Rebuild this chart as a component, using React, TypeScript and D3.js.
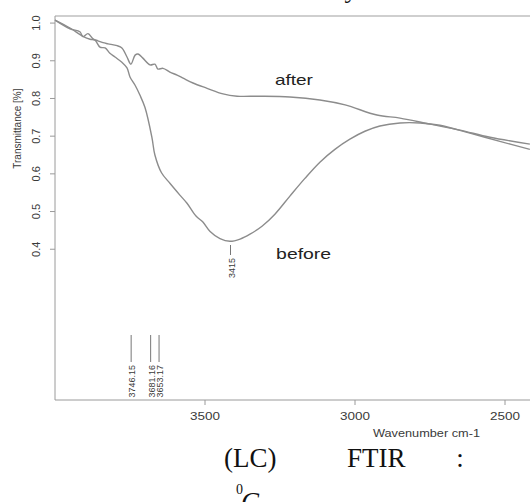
import React from "react";
import * as d3 from "d3";

// wavenumber (cm-1) / transmittance pairs
const afterWave = [4000, 3950, 3917, 3907, 3890, 3873, 3857, 3840, 3823, 3793, 3777, 3760, 3747, 3733, 3723, 3707, 3683, 3667, 3657, 3640, 3617, 3593, 3573, 3540, 3493, 3440, 3393, 3317, 3217, 3117, 3033, 2927, 2850, 2750, 2650, 2550, 2417];
const afterT = [1.008, 0.985, 0.977, 0.964, 0.972, 0.958, 0.953, 0.948, 0.945, 0.94, 0.934, 0.91, 0.891, 0.915, 0.918, 0.907, 0.889, 0.891, 0.878, 0.88, 0.87, 0.862, 0.854, 0.841, 0.827, 0.812, 0.806, 0.806, 0.804, 0.796, 0.783, 0.756, 0.748, 0.732, 0.716, 0.697, 0.679];

const beforeWave = [4000, 3950, 3907, 3883, 3867, 3850, 3833, 3817, 3800, 3777, 3760, 3750, 3733, 3717, 3700, 3677, 3667, 3645, 3617, 3583, 3560, 3530, 3507, 3483, 3450, 3417, 3383, 3350, 3310, 3267, 3217, 3167, 3117, 3067, 3017, 2967, 2917, 2850, 2783, 2717, 2617, 2517, 2417];
const beforeT = [1.008, 0.987, 0.965, 0.957, 0.955, 0.936, 0.934, 0.92, 0.91, 0.896, 0.881, 0.857, 0.835, 0.809, 0.776, 0.697, 0.65, 0.603, 0.575, 0.543, 0.522, 0.488, 0.472, 0.447, 0.428, 0.421, 0.427, 0.44, 0.461, 0.493, 0.541, 0.588, 0.631, 0.665, 0.692, 0.713, 0.727, 0.735, 0.735, 0.729, 0.708, 0.686, 0.665];

const xTicks = [3500, 3000, 2500];
const yTicks = [0.4, 0.5, 0.6, 0.7, 0.8, 0.9, 1.0];

const peakWave = [3746.15, 3681.16, 3653.17];
const peakLabels = ["3746.15", "3681.16", "3653.17"];
const minWave = 3415;
const minLabel = "3415";

const W = 530;
const H = 502;

export default function App() {
  const x = d3.scaleLinear().domain([4000, 2500]).range([55, 505]);
  const y = d3.scaleLinear().domain([0, 1.0188]).range([400, 16]);

  const line = d3
    .line<[number, number]>()
    .x((d) => x(d[0]))
    .y((d) => y(d[1]))
    .curve(d3.curveCatmullRom.alpha(0.5));

  const afterPts = afterWave.map((w, i) => [w, afterT[i]] as [number, number]);
  const beforePts = beforeWave.map((w, i) => [w, beforeT[i]] as [number, number]);

  const sans = "'Liberation Sans', Arial, sans-serif";
  const serif = "'Liberation Serif', 'Times New Roman', serif";
  const axisCol = "#9a9a9a";
  const textCol = "#3a3a3a";

  return (
    <div style={{ position: "absolute", left: 0, top: 0 }}>
      <svg width={W} height={H} style={{ display: "block", background: "#fff" }}>
        {/* cropped text glyph above */}
        <text x={351} y={-2} fontFamily={serif} fontSize={26} fill="#111" textAnchor="middle">
          y
        </text>

        {/* frame */}
        <line x1={55} x2={W} y1={16} y2={16} stroke="#cfcfcf" strokeWidth={2} />
        <line x1={55} x2={55} y1={16} y2={400} stroke={axisCol} strokeWidth={1} />
        <line x1={55} x2={W} y1={400} y2={400} stroke={axisCol} strokeWidth={1} />

        {/* y axis */}
        {yTicks.map((t) => (
          <g key={t}>
            <line x1={50} x2={55} y1={y(t)} y2={y(t)} stroke={axisCol} />
            <text
              transform={`translate(40,${y(t)}) rotate(-90)`}
              textAnchor="middle"
              fontFamily={sans}
              fontSize={11}
              fill={textCol}
            >
              {t.toFixed(1)}
            </text>
          </g>
        ))}
        <text
          transform={`translate(21,${y(0.72)}) rotate(-90)`}
          textAnchor="middle"
          fontFamily={sans}
          fontSize={10}
          fill={textCol}
        >
          Transmittance [%]
        </text>

        {/* x axis */}
        {xTicks.map((t) => (
          <g key={t}>
            <line x1={x(t)} x2={x(t)} y1={400} y2={405} stroke={axisCol} />
            <text
              x={x(t)}
              y={420}
              textAnchor="middle"
              fontFamily={sans}
              fontSize={11}
              fill={textCol}
              textLength={30}
              lengthAdjust="spacingAndGlyphs"
            >
              {t}
            </text>
          </g>
        ))}
        <text
          x={373}
          y={437}
          fontFamily={sans}
          fontSize={11}
          fill={textCol}
          textLength={107}
          lengthAdjust="spacingAndGlyphs"
        >
          Wavenumber cm-1
        </text>

        {/* spectra */}
        <path d={line(beforePts) || ""} fill="none" stroke="#8c8c8c" strokeWidth={1.4} />
        <path d={line(afterPts) || ""} fill="none" stroke="#8c8c8c" strokeWidth={1.4} />

        <text
          x={x(3267)}
          y={y(0.836)}
          fontFamily={sans}
          fontSize={15}
          fill="#222"
          textLength={38}
          lengthAdjust="spacingAndGlyphs"
        >
          after
        </text>
        <text
          x={x(3263)}
          y={y(0.374)}
          fontFamily={sans}
          fontSize={15}
          fill="#222"
          textLength={55}
          lengthAdjust="spacingAndGlyphs"
        >
          before
        </text>

        {/* peak annotations */}
        {peakWave.map((p, i) => (
          <g key={p}>
            <line x1={x(p)} x2={x(p)} y1={335} y2={362} stroke="#777" strokeWidth={1} />
            <text
              transform={`translate(${x(p) + 4},365) rotate(-90)`}
              textAnchor="end"
              fontFamily={sans}
              fontSize={9}
              fill={textCol}
            >
              {peakLabels[i]}
            </text>
          </g>
        ))}
        <line x1={x(minWave)} x2={x(minWave)} y1={245} y2={255} stroke="#777" strokeWidth={1} />
        <text
          transform={`translate(${x(minWave) + 4},258) rotate(-90)`}
          textAnchor="end"
          fontFamily={sans}
          fontSize={9}
          fill={textCol}
        >
          {minLabel}
        </text>

        {/* caption */}
        <text x={224} y={467} fontFamily={serif} fontSize={27} fill="#111">
          (LC)
        </text>
        <text x={347} y={467} fontFamily={serif} fontSize={27} fill="#111">
          FTIR
        </text>
        <text x={460} y={467} fontFamily={serif} fontSize={27} fill="#111" textAnchor="middle">
          :
        </text>
        <text x={236} y={494} fontFamily={serif} fontSize={14} fill="#111">
          0
        </text>
        <text x={241} y={511} fontFamily={serif} fontSize={27} fontStyle="italic" fill="#111">
          C
        </text>
      </svg>
    </div>
  );
}
